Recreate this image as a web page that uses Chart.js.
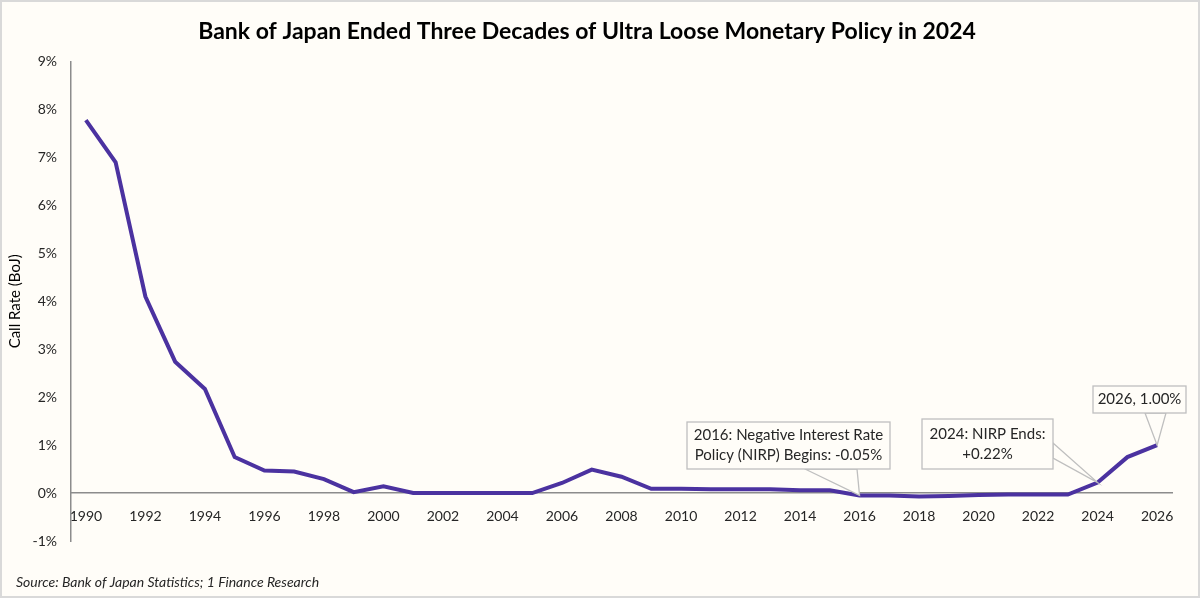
<!DOCTYPE html>
<html lang="en">
<head>
<meta charset="UTF-8">
<title>Bank of Japan Call Rate</title>
<script src="https://cdn.jsdelivr.net/npm/chart.js"></script>
<style>
  html, body { margin: 0; padding: 0; background: #fffdf8; }
  #grafico { display: block; }
</style>
</head>
<body>
<canvas id="grafico" width="1200" height="598"></canvas>

<script>
// Datos: tasa call del BoJ (%) por año
var anios = ['1990','1991','1992','1993','1994','1995','1996','1997','1998','1999',
             '2000','2001','2002','2003','2004','2005','2006','2007','2008','2009',
             '2010','2011','2012','2013','2014','2015','2016','2017','2018','2019',
             '2020','2021','2022','2023','2024','2025','2026'];
var tasaCall = [7.78, 6.90, 4.10, 2.74, 2.17, 0.75, 0.47, 0.45, 0.29, 0.02,
                0.14, 0.00, 0.00, 0.00, 0.00, 0.00, 0.21, 0.49, 0.34, 0.09,
                0.09, 0.08, 0.08, 0.08, 0.06, 0.06, -0.05, -0.05, -0.07, -0.06,
                -0.04, -0.03, -0.03, -0.03, 0.22, 0.75, 1.00];
var ticksY = [-1, 0, 1, 2, 3, 4, 5, 6, 7, 8, 9];

// Notas (callouts)
var notaAnios = ['2016', '2024', '2026'];
var notaTextos = [
    ['2016: Negative Interest Rate', 'Policy (NIRP) Begins: -0.05%'],
    ['2024: NIRP Ends:', '+0.22%'],
    ['2026, 1.00%']
];

var titulo = 'Bank of Japan Ended Three Decades of Ultra Loose Monetary Policy in 2024';
var fuente = 'Source: Bank of Japan Statistics; 1 Finance Research';

var letra = 'Lato, "Liberation Sans", sans-serif';

// fondo y borde gris
var fondo = {
    id: 'fondo',
    beforeDraw: function (chart) {
        var c = chart.ctx;
        c.save();
        c.fillStyle = '#fffdf8';
        c.fillRect(0, 0, chart.width, chart.height);
        c.strokeStyle = '#d9d9d9';
        c.lineWidth = 2;
        c.strokeRect(1, 1, chart.width - 2, chart.height - 2);
        c.restore();
    },
    afterDraw: function (chart) {
        var c = chart.ctx;
        c.save();
        c.fillStyle = '#262626';
        c.font = 'italic 14px ' + letra;
        c.textBaseline = 'middle';
        c.fillText(fuente, 16, 582);
        c.restore();
    }
};

// cajas de las notas (posicion en pixeles) y base de la flecha
var cajas = [
    { x: 687, y: 422, w: 203, h: 47, base: [[805, 469], [857, 469]] },
    { x: 922, y: 419, w: 131, h: 50, base: [[1053, 443], [1053, 458]] },
    { x: 1093, y: 386, w: 93, h: 27, base: [[1145, 413], [1166, 413]] }
];

var notas = {
    id: 'notas',
    afterDatasetsDraw: function (chart) {
        var c = chart.ctx;
        var sx = chart.scales.x, sy = chart.scales.y;
        c.save();
        c.strokeStyle = '#bfbfbf';
        c.lineWidth = 1.3;
        c.fillStyle = '#fffdf8';
        for (var i = 0; i < notaAnios.length; i++) {
            var idx = anios.indexOf(notaAnios[i]);
            var px = sx.getPixelForValue(idx);
            var py = sy.getPixelForValue(tasaCall[idx]);
            var b = cajas[i];
            // cuña
            c.beginPath();
            c.moveTo(b.base[0][0], b.base[0][1]);
            c.lineTo(px, py);
            c.lineTo(b.base[1][0], b.base[1][1]);
            c.closePath();
            c.fill();
            c.stroke();
            // caja
            c.fillRect(b.x, b.y, b.w, b.h);
            c.strokeRect(b.x, b.y, b.w, b.h);
            // texto
            c.save();
            c.fillStyle = '#262626';
            c.font = '15px ' + letra;
            c.textAlign = 'center';
            c.textBaseline = 'middle';
            var lineas = notaTextos[i];
            var cy = b.y + b.h / 2 - (lineas.length - 1) * 10;
            for (var j = 0; j < lineas.length; j++) {
                c.fillText(lineas[j], b.x + b.w / 2, cy + j * 20);
            }
            c.restore();
        }
        c.restore();
    }
};

var ctx = document.getElementById('grafico').getContext('2d');
var grafico = new Chart(ctx, {
    type: 'line',
    data: {
        labels: anios,
        datasets: [{
            label: 'Call Rate (BoJ)',
            data: tasaCall,
            borderColor: '#4b32a0',
            borderWidth: 4,
            pointRadius: 0,
            tension: 0,
            fill: false
        }]
    },
    options: {
        responsive: false,
        animation: false,
        layout: { padding: { left: 2, right: 28, top: 0, bottom: 57 } },
        plugins: {
            legend: { display: false },
            tooltip: { enabled: false },
            title: {
                display: true,
                text: titulo,
                color: '#000',
                font: { family: letra, size: 23, weight: 'bold' },
                padding: { top: 18, bottom: 16 }
            }
        },
        scales: {
            x: {
                type: 'category',
                offset: true,
                position: { y: 0 },
                grid: { display: false, drawTicks: false },
                border: { color: '#8c8c8c', width: 1.5 },
                ticks: {
                    autoSkip: false,
                    maxRotation: 0,
                    padding: 15,
                    color: '#262626',
                    font: { family: letra, size: 14 },
                    callback: function (v, i) {
                        return i % 2 === 0 ? anios[i] : '';
                    }
                }
            },
            y: {
                min: -1,
                max: 9,
                afterBuildTicks: function (s) {
                    s.ticks = ticksY.map(function (v) { return { value: v }; });
                },
                afterFit: function (s) { s.width = 69; },
                grid: { display: false, drawTicks: false },
                border: { color: '#8c8c8c', width: 1.5 },
                ticks: {
                    padding: 14,
                    color: '#262626',
                    font: { family: letra, size: 14 },
                    callback: function (v) { return v + '%'; }
                },
                title: {
                    display: true,
                    text: 'Call Rate (BoJ)',
                    color: '#000',
                    font: { family: letra, size: 15 },
                    padding: { top: 4, bottom: 4 }
                }
            }
        }
    },
    plugins: [fondo, notas]
});
</script>
</body>
</html>
